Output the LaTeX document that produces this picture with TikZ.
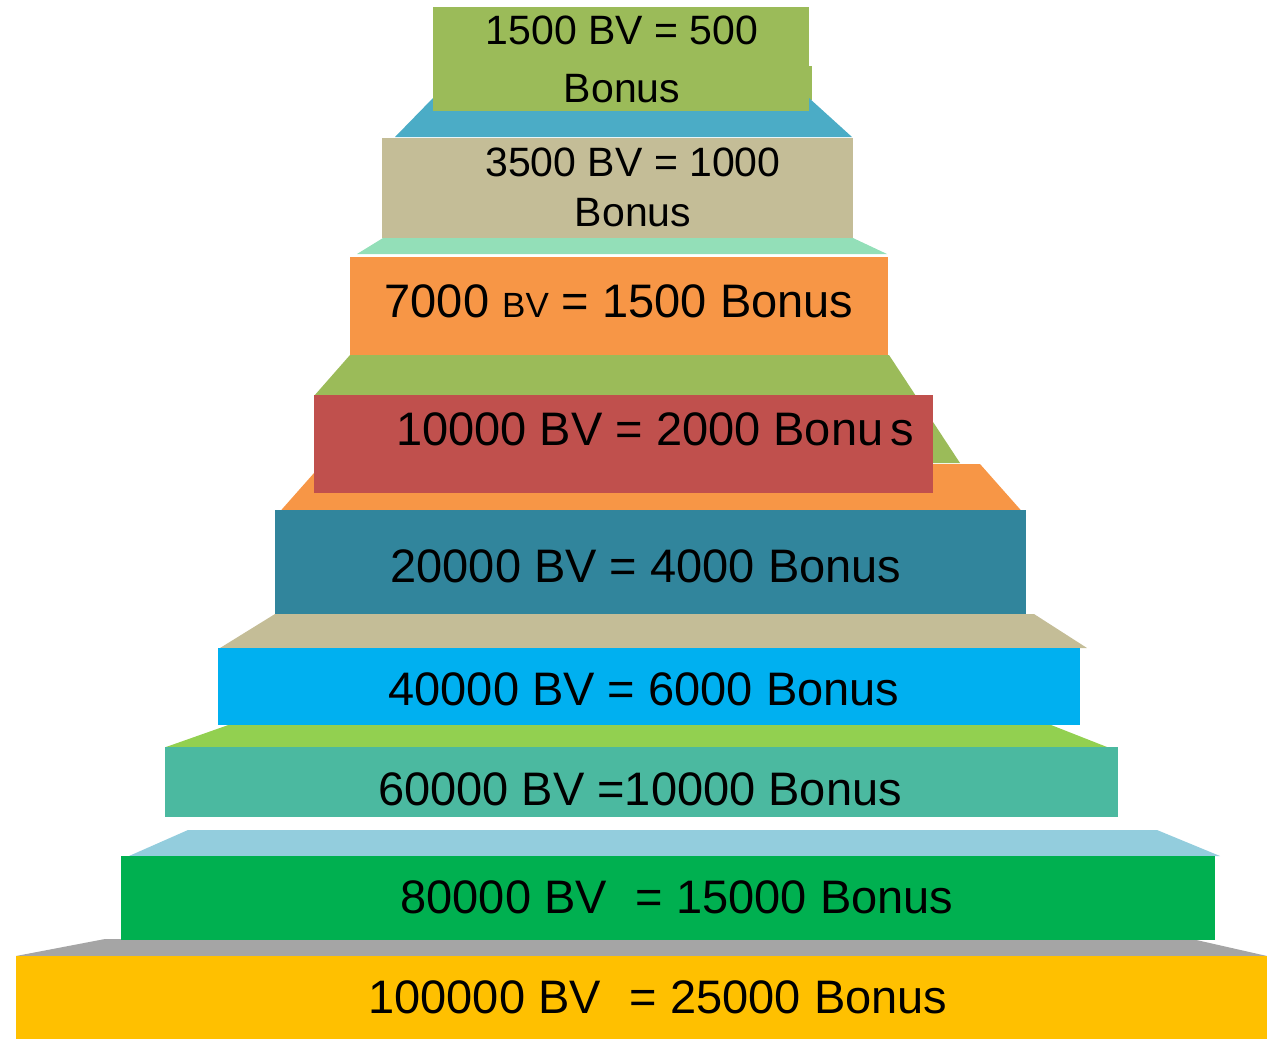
\documentclass[tikz,border=0pt]{standalone}
\usepackage{fontspec}
\setmainfont{Liberation Sans}

\definecolor{olivegreen}{HTML}{9BBB59}
\definecolor{seablue}{HTML}{4BACC6}
\definecolor{khaki}{HTML}{C4BD97}
\definecolor{mint}{HTML}{93DFB8}
\definecolor{tangerine}{HTML}{F79646}
\definecolor{brick}{HTML}{C0504D}
\definecolor{petrol}{HTML}{31859C}
\definecolor{skyblue}{HTML}{00B0F0}
\definecolor{limegreen}{HTML}{92D050}
\definecolor{jade}{HTML}{4BB9A0}
\definecolor{paleblue}{HTML}{93CDDD}
\definecolor{emerald}{HTML}{00B050}
\definecolor{midgray}{HTML}{A5A5A5}
\definecolor{gold}{HTML}{FFC000}

\tikzset{
  stepbox/.style={inner sep=0pt, outer sep=0pt, draw=none, anchor=north west},
  steplabel/.style={inner sep=0pt, text=black, font=\fontsize{47}{56}\selectfont},
  toplabel/.style={inner sep=0pt, text=black, align=center}
}

\begin{document}
\begin{tikzpicture}[x=1pt, y=-1pt]
\useasboundingbox (0,0) rectangle (1267,1039);

% Top faces of the steps
\fill[olivegreen] (809,66) rectangle (812,100);
\fill[seablue] (433,98) -- (809,98) -- (852,137) -- (395,137) -- cycle;
\fill[mint] (383,238) -- (853,238) -- (887,254) -- (357,254) -- cycle;
\fill[olivegreen] (350,355) -- (889,355) -- (960,463) -- (314,463) -- (314,396) -- cycle;
\fill[tangerine] (322,464) -- (980,464) -- (1026,516) -- (276,516) -- cycle;
\fill[khaki] (275,614) -- (1034,614) -- (1087,648) -- (220,648) -- cycle;
\fill[limegreen] (234,723) -- (1046,723) -- (1107,747) -- (166,747) -- cycle;
\fill[paleblue] (188,830) -- (1157,830) -- (1220,856) -- (129,856) -- cycle;
\fill[midgray] (105,939) -- (1192,939) -- (1267,956) -- (16,956) -- cycle;

% Front faces of the steps
\foreach \name/\xa/\ya/\xb/\yb/\col in {s1/433/7/809/111/olivegreen, s2/382/138/853/238/khaki,
    s3/350/257/888/355/tangerine, s4/314/395/933/493/brick, s5/275/510/1026/614/petrol,
    s6/218/648/1080/725/skyblue, s7/165/747/1118/817/jade, s8/121/856/1215/940/emerald,
    s9/16/956/1267/1039/gold}
  \node[stepbox, fill=\col, minimum width={(\xb-\xa)*1pt}, minimum height={(\yb-\ya)*1pt}] (\name) at (\xa,\ya) {};

% Labels
\node[toplabel, font=\fontsize{41}{58}\selectfont] (t1) at (622,59) {1500 BV = 500\\Bonus};
\node[toplabel, font=\fontsize{41}{50}\selectfont] (t2) at (633,187) {3500 BV = 1000\\Bonus};
\node[steplabel] (t3) at (619,301) {7000 {\fontsize{35}{40}\selectfont BV} = 1500 Bonus};
\node[steplabel] (t4) at (655,429) {10000 BV = 2000 Bonu\hspace{7pt}s};
\node[steplabel] (t5) at (646,566) {20000 BV = 4000 Bonus};
\node[steplabel] (t6) at (644,689) {40000 BV = 6000 Bonus};
\node[steplabel] (t7) at (640,789) {60000 BV =10000 Bonus};
\node[steplabel] (t8) at (677,897) {80000 BV\hspace{29pt}= 15000 Bonus};
\node[steplabel] (t9) at (658,997) {100000 BV\hspace{29pt}= 25000 Bonus};
\end{tikzpicture}
\end{document}
